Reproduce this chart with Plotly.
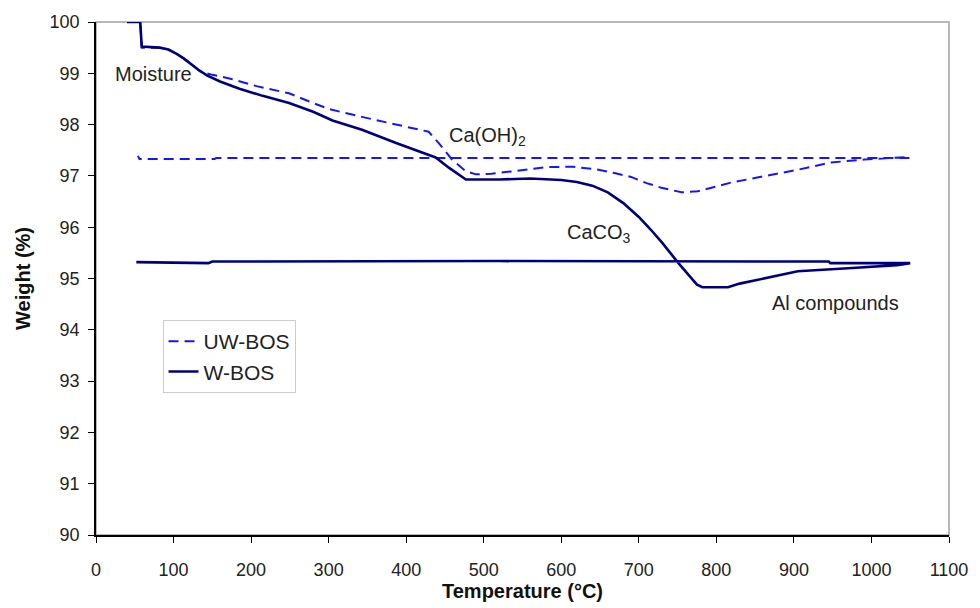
import plotly.graph_objects as go

# ---- data (temperature °C, weight %) : heating segment followed by cooling return ----
uw_temp = [40, 57, 59, 82, 95, 104, 113, 121, 134, 150, 172, 207, 249, 275, 301, 343, 378,
           407, 429, 442, 459, 477, 490, 510, 536, 560, 580, 615, 648, 670, 690, 710, 729,
           755, 776, 819, 862, 905, 947, 991, 1049,
           1049, 155, 153, 56, 54]
uw_weight = [100.0, 100.0, 99.5, 99.5, 99.46, 99.38, 99.29, 99.2, 99.04, 98.97, 98.9, 98.75,
             98.61, 98.45, 98.3, 98.15, 98.03, 97.93, 97.86, 97.64, 97.32, 97.09, 97.03,
             97.04, 97.09, 97.14, 97.17, 97.18, 97.12, 97.05, 96.98, 96.86, 96.77, 96.68,
             96.7, 96.87, 96.99, 97.12, 97.26, 97.32, 97.37,
             97.35, 97.35, 97.33, 97.33, 97.39]

w_temp = [40, 57, 59, 82, 92, 104, 113, 121, 132, 143, 160, 185, 215, 249, 280, 305, 343,
          387, 420, 438, 455, 472, 477, 520, 560, 600, 620, 640, 660, 680, 700, 715, 730,
          750, 765, 775, 782, 815, 830, 860, 905, 970, 1033, 1050,
          1050, 947, 945, 520, 150, 145, 52]
w_weight = [100.0, 100.0, 99.52, 99.5, 99.47, 99.38, 99.29, 99.19, 99.07, 98.96, 98.84,
            98.7, 98.56, 98.42, 98.25, 98.08, 97.9, 97.64, 97.45, 97.36, 97.16, 96.97,
            96.93, 96.93, 96.95, 96.92, 96.88, 96.81, 96.68, 96.47, 96.2, 95.96, 95.7,
            95.32, 95.05, 94.88, 94.83, 94.83, 94.9, 95.0, 95.14, 95.2, 95.26, 95.3,
            95.3, 95.3, 95.33, 95.34, 95.33, 95.3, 95.32]

series_names = ["UW-BOS", "W-BOS"]
x_ticks = list(range(0, 1101, 100))
y_ticks = list(range(90, 101, 1))

labels = [("Moisture", 22, 98.98), ("Ca(OH)<sub>2</sub>", 452, 97.76),
          ("CaCO<sub>3</sub>", 605, 95.87), ("Al compounds", 869, 94.52)]

FONT = "Liberation Sans, Arial, sans-serif"

fig = go.Figure()
fig.add_trace(go.Scatter(x=uw_temp, y=uw_weight, mode="lines", name=series_names[0],
                         line=dict(color="#1414ff", width=2, dash="10px,6px")))
fig.add_trace(go.Scatter(x=w_temp, y=w_weight, mode="lines", name=series_names[1],
                         line=dict(color="#00007f", width=2.6)))

for text, x, y in labels:
    fig.add_annotation(x=x, y=y, text=text, showarrow=False, xanchor="left", yanchor="middle",
                       font=dict(family=FONT, size=20, color="#222222"))

# grey plot-area frame (top and right)
fig.add_shape(type="rect", xref="paper", yref="paper", x0=0, x1=1, y0=0, y1=1,
              line=dict(color="#a0a0a0", width=1.5), layer="below")

fig.update_layout(
    width=980, height=608,
    margin=dict(l=96, r=28, t=21, b=69),
    paper_bgcolor="white", plot_bgcolor="white",
    font=dict(family=FONT, color="#222222"),
    showlegend=True,
    legend=dict(x=0.078, y=0.419, xanchor="left", yanchor="top",
                bordercolor="#cccccc", borderwidth=1, bgcolor="white",
                font=dict(family=FONT, size=21, color="#222222"),
                itemwidth=30),
    xaxis=dict(range=[0, 1100], tickvals=x_ticks, ticks="outside", ticklen=6,
               tickcolor="black", showline=True, linecolor="black", linewidth=1.5,
               showgrid=False, zeroline=False, ticklabelstandoff=12,
               tickfont=dict(family=FONT, size=18, color="#222222"),
               title=dict(text="<b>Temperature (°C)</b>", standoff=2,
                          font=dict(family=FONT, size=20, color="#111111"))),
    yaxis=dict(range=[90, 100], tickvals=y_ticks, ticks="outside", ticklen=6,
               tickcolor="black", showline=True, linecolor="black", linewidth=1.5,
               showgrid=False, zeroline=False, ticklabelstandoff=5,
               tickfont=dict(family=FONT, size=18, color="#222222"),
               title=dict(text="<b>Weight (%)</b>", standoff=14,
                          font=dict(family=FONT, size=20, color="#111111"))),
)

fig.write_html("out.html")
